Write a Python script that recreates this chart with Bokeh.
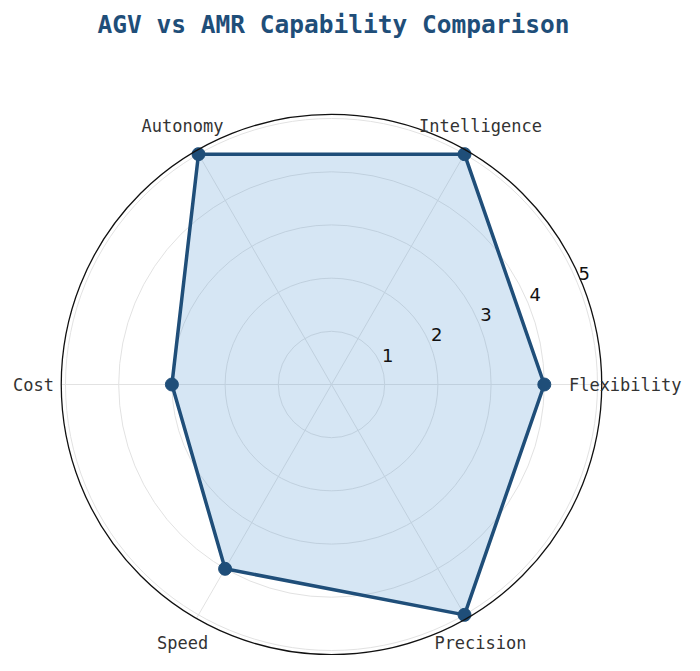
import numpy as np
from bokeh.plotting import figure
from bokeh.models import Range1d
from bokeh.core.properties import value
from bokeh.embed import file_html
from bokeh.resources import INLINE

# ---- data ----
categories = ["Flexibility", "Intelligence", "Autonomy", "Cost", "Speed", "Precision"]
scores = [4, 5, 5, 3, 4, 5]
radial_ticks = [1, 2, 3, 4, 5]
radial_tick_labels = ["1", "2", "3", "4", "5"]
title_text = "AGV vs AMR Capability Comparison"

# ---- layout constants ----
W, H = 684, 655
CX, CY = 331, 384          # centre in canvas pixels (from top-left)
K = 53.2                   # pixels per radial unit
RMAX = 5.08                # outer frame radius
LABEL_R = 5.6
LINE_COLOR = "#1f4e79"

p = figure(width=W, height=H,
           x_range=Range1d(-CX / K, (W - CX) / K),
           y_range=Range1d(-(H - CY) / K, CY / K),
           output_backend="svg", toolbar_location=None, min_border=0)
p.axis.visible = False
p.grid.visible = False
p.outline_line_color = None
p.background_fill_color = "white"

n = len(categories)
angles = np.arange(n) * 2 * np.pi / n

# grid circles
for r in radial_ticks:
    p.circle(x=0, y=0, radius=r, fill_color=None, line_color="#e2e2e2", line_width=1)

# spokes
p.segment(x0=[0] * n, y0=[0] * n,
          x1=list(RMAX * np.cos(angles)), y1=list(RMAX * np.sin(angles)),
          line_color="#e2e2e2", line_width=1)

# data polygon
sc = np.array(scores, dtype=float)
xs = sc * np.cos(angles)
ys = sc * np.sin(angles)
xc = list(xs) + [xs[0]]
yc = list(ys) + [ys[0]]
p.patch(xc, yc, fill_color="#5b9bd5", fill_alpha=0.25, line_color=None)
p.line(xc, yc, line_color=LINE_COLOR, line_width=3.5)
p.scatter(list(xs), list(ys), size=13, fill_color=LINE_COLOR, line_color=LINE_COLOR)

# outer frame
p.circle(x=0, y=0, radius=RMAX, fill_color=None, line_color="#111111", line_width=1.3)

# category labels (keep the rightmost label inside the canvas)
FS = 17
char_w = 0.602 * FS
lx_px = CX + LABEL_R * K * np.cos(angles)
half_w = np.array([len(c) * char_w / 2 for c in categories])
x_off = list(np.minimum(0, (W - 3 - half_w) - lx_px))
p.text(x=list(LABEL_R * np.cos(angles)), y=list(LABEL_R * np.sin(angles)), text=categories,
       x_offset=x_off,
       text_align="center", text_baseline="middle",
       text_font=value("DejaVu Sans Mono"), text_font_size=f"{FS}px", text_color="#333333")

# radial tick labels
ra = np.deg2rad(22.5)
rt = np.array(radial_ticks, dtype=float)
p.text(x=list(rt * np.cos(ra)), y=list(rt * np.sin(ra)), text=radial_tick_labels,
       x_offset=7, y_offset=-9,
       text_align="center", text_baseline="middle",
       text_font=value("DejaVu Sans"), text_font_size="18px", text_color="#111111")

# title
p.text(x=[(333 - CX) / K], y=[(CY - 24) / K], text=[title_text],
       text_align="center", text_baseline="middle",
       text_font=value("DejaVu Sans Mono"), text_font_style="bold",
       text_font_size="24.5px", text_color=LINE_COLOR)

open("out.html", "w").write(file_html(p, INLINE))
